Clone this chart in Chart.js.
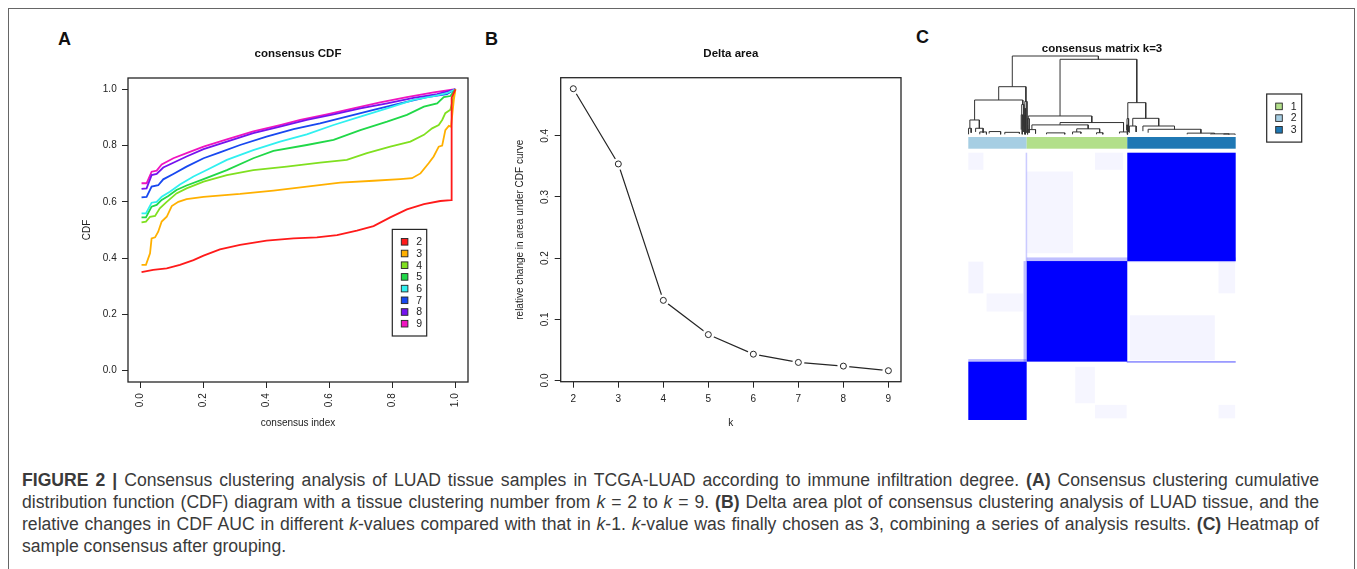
<!DOCTYPE html>
<html>
<head>
	<meta charset="utf-8">
	<title>Consensus clustering of LUAD samples</title>
	<script src="https://cdn.jsdelivr.net/npm/chart.js@4.4.1/dist/chart.umd.min.js"></script>
	<style>
		body { margin: 0; background: #fff; }
		#page { position: relative; width: 1357px; height: 569px; overflow: hidden; font-family: 'Liberation Sans', Arial, sans-serif; }
		#frame { position: absolute; left: 8px; top: 8px; width: 1345px; height: 620px; border: 1.5px solid #666; }
		.tag { position: absolute; font-weight: bold; font-size: 18px; line-height: 18px; color: #111; }
		canvas { position: absolute; }
		#caption { position: absolute; left: 22px; top: 469px; width: 1297px; font-size: 17.6px; line-height: 22px; color: #3a3a3a; }
		#caption div { white-space: nowrap; text-align: justify; text-align-last: justify; }
		#caption div.last { text-align-last: left; }
	</style>
</head>
<body>
<div id="page">
	<div id="frame"></div>
	<div class="tag" style="left:58px; top:30px;">A</div>
	<div class="tag" style="left:485px; top:30px;">B</div>
	<div class="tag" style="left:916px; top:28px;">C</div>

	<!--A: consensus CDF-->
	<canvas id="cdfChart" width="440" height="420" style="left:40px; top:20px;"></canvas>
	<!--B: delta area-->
	<canvas id="deltaChart" width="450" height="420" style="left:470px; top:20px;"></canvas>
	<!--C: consensus matrix-->
	<canvas id="matrixChart" width="380" height="420" style="left:940px; top:20px;"></canvas>

	<div id="caption">
		<div><b>FIGURE 2 |</b> Consensus clustering analysis of LUAD tissue samples in TCGA-LUAD according to immune infiltration degree. <b>(A)</b> Consensus clustering cumulative</div>
		<div>distribution function (CDF) diagram with a tissue clustering number from <i>k</i> = 2 to <i>k</i> = 9. <b>(B)</b> Delta area plot of consensus clustering analysis of LUAD tissue, and the</div>
		<div>relative changes in CDF AUC in different <i>k</i>-values compared with that in <i>k</i>-1. <i>k</i>-value was finally chosen as 3, combining a series of analysis results. <b>(C)</b> Heatmap of</div>
		<div class="last">sample consensus after grouping.</div>
	</div>
</div>

<script>
	// ---------- data ----------

	// A: consensus CDF, one curve per k, points are [consensus index, CDF]
	var cdfLabels = ['2', '3', '4', '5', '6', '7', '8', '9'];
	var cdfColors = ['#ff1a1a', '#ffb000', '#80e020', '#20d848', '#30f0f0', '#1848f0', '#7412ee', '#f014c0'];
	var cdf2 = [[0.003,0.350],[0.04,0.358],[0.083,0.364],[0.125,0.376],[0.168,0.393],[0.2,0.409],[0.252,0.431],[0.316,0.447],[0.4,0.462],[0.486,0.470],[0.56,0.474],[0.624,0.482],[0.687,0.498],[0.74,0.514],[0.793,0.545],[0.846,0.573],[0.9,0.592],[0.952,0.603],[0.986,0.606],[0.988,0.97],[1.0,1.0]];
	var cdf3 = [[0.003,0.376],[0.017,0.376],[0.03,0.417],[0.035,0.470],[0.046,0.474],[0.056,0.494],[0.067,0.530],[0.083,0.547],[0.099,0.585],[0.12,0.600],[0.146,0.610],[0.2,0.618],[0.316,0.628],[0.422,0.640],[0.528,0.654],[0.634,0.668],[0.74,0.675],[0.825,0.681],[0.862,0.684],[0.889,0.701],[0.915,0.737],[0.931,0.761],[0.947,0.796],[0.958,0.800],[0.968,0.855],[0.979,0.870],[0.986,0.867],[0.995,0.962],[1.0,1.0]];
	var cdf4 = [[0.003,0.527],[0.017,0.530],[0.03,0.547],[0.046,0.550],[0.061,0.577],[0.083,0.600],[0.114,0.630],[0.146,0.648],[0.2,0.672],[0.274,0.695],[0.358,0.713],[0.464,0.725],[0.57,0.739],[0.655,0.749],[0.719,0.773],[0.793,0.796],[0.857,0.814],[0.9,0.838],[0.926,0.861],[0.947,0.873],[0.958,0.891],[0.968,0.915],[0.984,0.927],[1.0,1.0]];
	var cdf5 = [[0.003,0.545],[0.017,0.545],[0.035,0.583],[0.051,0.589],[0.067,0.607],[0.088,0.621],[0.114,0.642],[0.146,0.658],[0.2,0.681],[0.274,0.713],[0.358,0.755],[0.422,0.781],[0.528,0.802],[0.613,0.820],[0.698,0.855],[0.783,0.885],[0.846,0.909],[0.9,0.938],[0.942,0.950],[0.963,0.972],[0.984,0.976],[1.0,1.0]];
	var cdf6 = [[0.003,0.559],[0.017,0.559],[0.035,0.597],[0.051,0.600],[0.067,0.618],[0.093,0.636],[0.125,0.662],[0.168,0.690],[0.21,0.713],[0.274,0.749],[0.358,0.784],[0.443,0.814],[0.528,0.840],[0.613,0.873],[0.698,0.903],[0.783,0.932],[0.867,0.962],[0.931,0.976],[0.973,0.986],[1.0,1.0]];
	var cdf7 = [[0.003,0.616],[0.019,0.618],[0.035,0.654],[0.056,0.659],[0.072,0.680],[0.104,0.699],[0.146,0.725],[0.2,0.755],[0.252,0.776],[0.316,0.802],[0.4,0.832],[0.486,0.858],[0.57,0.879],[0.655,0.903],[0.74,0.927],[0.825,0.950],[0.91,0.972],[0.973,0.983],[1.0,1.0]];
	var cdf8 = [[0.003,0.646],[0.019,0.648],[0.035,0.695],[0.051,0.699],[0.072,0.722],[0.104,0.739],[0.146,0.761],[0.2,0.787],[0.274,0.814],[0.358,0.844],[0.443,0.867],[0.528,0.891],[0.613,0.911],[0.698,0.932],[0.783,0.950],[0.867,0.969],[0.942,0.983],[1.0,1.0]];
	var cdf9 = [[0.003,0.666],[0.019,0.666],[0.035,0.707],[0.051,0.711],[0.067,0.733],[0.104,0.755],[0.146,0.773],[0.2,0.796],[0.274,0.822],[0.358,0.850],[0.443,0.873],[0.507,0.891],[0.592,0.911],[0.676,0.932],[0.761,0.953],[0.846,0.972],[0.931,0.989],[1.0,1.0]];
	var cdfCurves = [cdf2, cdf3, cdf4, cdf5, cdf6, cdf7, cdf8, cdf9];
	var cdfTicks = [0, 0.2, 0.4, 0.6, 0.8, 1.0];

	// B: delta area
	var kValues = [2, 3, 4, 5, 6, 7, 8, 9];
	var deltaArea = [0.477, 0.354, 0.131, 0.075, 0.043, 0.0295, 0.0235, 0.016];
	var deltaTicks = [0, 0.1, 0.2, 0.3, 0.4];

	// C: consensus matrix, k = 3
	var clusterNames = ['1', '2', '3'];
	var clusterColors = ['#b2df8a', '#a6cee3', '#1f78b4'];
	var blockClusters = ['2', '1', '3'];   // cluster of each sample block, left to right
	var blockSizes = [112, 193, 208];      // samples in each block
	// low consensus patches: [col from, col to, row from, row to, consensus]
	var faintCells = [
		[0, 29, 480, 513, 0.04], [112, 201, 320, 477, 0.04], [243, 297, 480, 513, 0.04],
		[0, 29, 243, 304, 0.045], [35, 105, 208, 243, 0.035], [310, 473, 115, 201, 0.045],
		[480, 512, 243, 304, 0.04], [205, 243, 32, 102, 0.035], [243, 304, 3, 29, 0.035],
		[480, 512, 3, 29, 0.035], [304, 513, 110, 113, 0.45], [112, 513, 303, 312, 0.25],
		[106, 112, 112, 305, 0.25], [110, 113, 305, 513, 0.2], [0, 112, 112, 117, 0.25]
	];
	// dendrogram merges: [left child, right child, merge height, left child height, right child height]
	var dendroLinks = [
		[84.4, 249.6, 1.000, 0.608, 0.958],
		[58.3, 110.5, 0.608, 0.438, 0.420],
		[12.1, 104.5, 0.438, 0.183, 0.380],
		[3.0, 21.2, 0.183, 0.077, 0.077],
		[0.5, 5.5, 0.077, 0, 0.02],
		[14.0, 28.4, 0.077, 0.03, 0.02],
		[22.0, 34.8, 0.030, 0, 0],
		[40.0, 62.0, 0.035, 0.01, 0],
		[70.0, 98.0, 0.025, 0, 0.01],
		[102.5, 106.5, 0.380, 0.25, 0.03],
		[101.5, 103.5, 0.250, 0.06, 0],
		[108.5, 112.5, 0.420, 0.33, 0.02],
		[107.5, 109.5, 0.330, 0.24, 0],
		[106.5, 108.5, 0.240, 0.10, 0],
		[176.0, 323.2, 0.958, 0.234, 0.404],
		[115.1, 236.9, 0.234, 0.200, 0.150],
		[113.5, 116.7, 0.200, 0.12, 0.02],
		[112.8, 114.2, 0.120, 0.04, 0],
		[176.0, 297.8, 0.150, 0.120, 0.03],
		[122.0, 230.0, 0.120, 0.060, 0.070],
		[115.0, 129.0, 0.060, 0.02, 0.01],
		[208.0, 252.0, 0.070, 0.03, 0.02],
		[200.0, 216.0, 0.030, 0, 0.01],
		[246.0, 258.0, 0.020, 0, 0],
		[150.0, 185.0, 0.018, 0, 0],
		[290.0, 305.6, 0.030, 0.01, 0],
		[306.0, 340.4, 0.404, 0.200, 0.204],
		[304.5, 307.5, 0.200, 0.12, 0.03],
		[303.8, 305.2, 0.120, 0.05, 0],
		[315.5, 365.3, 0.204, 0.106, 0.106],
		[309.0, 322.0, 0.106, 0.02, 0.03],
		[335.0, 395.6, 0.106, 0.04, 0.064],
		[345.0, 446.2, 0.064, 0.02, 0.015],
		[420.0, 472.4, 0.015, 0, 0.005],
		[465.0, 500.0, 0.006, 0, 0],
		[490.0, 512.0, 0.004, 0, 0]
	];

	// ---------- shared helpers ----------
	Chart.defaults.font.family = "'Liberation Sans', Arial, sans-serif";
	Chart.defaults.color = '#222';
	var ink = '#262626';

	function fixedTicks(values) {
		return function(scale) {
			scale.ticks = values.map(function(v) { return {value: v}; });
		};
	}

	// R style box round the plot region plus a centred bold title
	var rBox = {
		id: 'rBox',
		afterDraw: function(chart, args, opts) {
			if (!opts.title) return;
			var a = chart.chartArea, ctx = chart.ctx;
			ctx.save();
			ctx.strokeStyle = ink;
			ctx.lineWidth = 1.3;
			ctx.strokeRect(a.left, a.top, a.right - a.left, a.bottom - a.top);
			ctx.fillStyle = '#111';
			ctx.font = "bold 11.5px 'Liberation Sans', Arial, sans-serif";
			ctx.textAlign = 'center';
			ctx.textBaseline = 'middle';
			ctx.fillText(opts.title, (a.left + a.right) / 2, a.top - opts.gap);
			ctx.restore();
		}
	};

	// boxed legend with small squares, as R's legend()
	function drawBoxLegend(ctx, left, top, w, labels, colors) {
		ctx.save();
		ctx.strokeStyle = ink;
		ctx.lineWidth = 1.2;
		var h = labels.length * 11.7 + 13;
		ctx.strokeRect(left, top, w, h);
		ctx.font = "10.5px 'Liberation Sans', Arial, sans-serif";
		ctx.textBaseline = 'middle';
		ctx.textAlign = 'left';
		for (var i = 0; i < labels.length; i++) {
			var cy = top + 12.4 + i * 11.7;
			ctx.fillStyle = colors[i];
			ctx.fillRect(left + 9, cy - 3.3, 6.6, 6.6);
			ctx.lineWidth = 0.9;
			ctx.strokeRect(left + 9, cy - 3.3, 6.6, 6.6);
			ctx.fillStyle = '#222';
			ctx.fillText(labels[i], left + 24, cy + 0.5);
		}
		ctx.restore();
	}

	function axisStyle(extra) {
		var base = {
			border: {display: false},
			grid: {drawOnChartArea: false, drawTicks: true, tickLength: 6, color: ink, lineWidth: 1},
			ticks: {autoSkip: false, color: '#222', font: {size: 10}}
		};
		for (var key in extra) {
			if (typeof extra[key] === 'object' && base[key] && !Array.isArray(extra[key])) {
				base[key] = Object.assign({}, base[key], extra[key]);
			} else {
				base[key] = extra[key];
			}
		}
		return base;
	}

	// ---------- A: consensus CDF ----------
	var cdfLegend = {
		id: 'cdfLegend',
		afterDraw: function(chart) {
			var a = chart.chartArea;
			var ds = chart.data.datasets;
			drawBoxLegend(chart.ctx, a.right - 41.3 - 34.4, a.bottom - 46 - 106.6, 34.4,
				ds.map(function(d) { return d.label; }),
				ds.map(function(d) { return d.borderColor; }));
		}
	};

	new Chart(document.getElementById('cdfChart'), {
		type: 'scatter',
		data: {
			datasets: cdfCurves.map(function(curve, i) {
				return {
					label: cdfLabels[i],
					data: curve.map(function(p) { return {x: p[0], y: p[1]}; }),
					showLine: true,
					borderColor: cdfColors[i],
					borderWidth: 1.8,
					pointRadius: 0,
					tension: 0
				};
			})
		},
		options: {
			responsive: false,
			animation: false,
			events: [],
			layout: {padding: {left: 0, right: 12, top: 58, bottom: 0}},
			plugins: {legend: {display: false}, tooltip: {enabled: false}, rBox: {title: 'consensus CDF', gap: 23.7}},
			scales: {
				x: axisStyle({
					type: 'linear', min: -0.04, max: 1.04,
					afterBuildTicks: fixedTicks(cdfTicks),
					afterFit: function(s) { s.height = 58; },
					ticks: {minRotation: 90, maxRotation: 90, padding: 5.3, callback: function(v) { return v.toFixed(1); }},
					title: {display: true, text: 'consensus index', color: '#222', font: {size: 10}, padding: {top: 0, bottom: 10.7}}
				}),
				y: axisStyle({
					type: 'linear', min: -0.04, max: 1.04,
					afterBuildTicks: fixedTicks(cdfTicks),
					afterFit: function(s) { s.width = 88; },
					ticks: {padding: 5.3, callback: function(v) { return v.toFixed(1); }},
					title: {display: true, text: 'CDF', color: '#222', font: {size: 10}, padding: {top: 41.7, bottom: 0}}
				})
			}
		},
		plugins: [rBox, cdfLegend]
	});

	// ---------- B: delta area ----------
	var deltaPoints = kValues.map(function(k, i) { return {x: k, y: deltaArea[i]}; });

	new Chart(document.getElementById('deltaChart'), {
		type: 'scatter',
		data: {
			datasets: [
				{data: deltaPoints, showLine: true, borderColor: ink, borderWidth: 1.2, pointRadius: 0, order: 3},
				{data: deltaPoints, showLine: false, pointRadius: 6, pointBackgroundColor: '#fff', pointBorderWidth: 0, order: 2},
				{data: deltaPoints, showLine: false, pointRadius: 3, pointBackgroundColor: '#fff', pointBorderColor: ink, pointBorderWidth: 1, order: 1}
			]
		},
		options: {
			responsive: false,
			animation: false,
			events: [],
			layout: {padding: {left: 0, right: 19, top: 57.7, bottom: 0}},
			plugins: {legend: {display: false}, tooltip: {enabled: false}, rBox: {title: 'Delta area', gap: 23.4}},
			scales: {
				x: axisStyle({
					type: 'linear', min: 1.72, max: 9.28,
					afterBuildTicks: fixedTicks(kValues),
					afterFit: function(s) { s.height = 58.3; },
					ticks: {padding: 5.6, callback: function(v) { return String(v); }},
					title: {display: true, text: 'k', color: '#222', font: {size: 10}, padding: {top: 0, bottom: 10.7}}
				}),
				y: axisStyle({
					type: 'linear', min: -0.002, max: 0.495,
					afterBuildTicks: fixedTicks(deltaTicks),
					afterFit: function(s) { s.width = 90.7; },
					ticks: {minRotation: 90, maxRotation: 90, crossAlign: 'center', padding: 2.8, callback: function(v) { return v.toFixed(1); }},
					title: {display: true, text: 'relative change in area under CDF curve', color: '#222', font: {size: 10}, padding: {top: 44, bottom: 0}}
				})
			}
		},
		plugins: [rBox]
	});

	// ---------- C: consensus matrix ----------
	function blockBounds() {
		var start = 0, out = [];
		for (var i = 0; i < blockSizes.length; i++) {
			out.push([start, start + blockSizes[i]]);
			start += blockSizes[i];
		}
		return out;
	}

	var matrixPlugin = {
		id: 'matrix',
		beforeDatasetsDraw: function(chart) {
			var ctx = chart.ctx, sx = chart.scales.x, sy = chart.scales.y, sb = chart.scales.yBar;
			function cell(c0, c1, r0, r1, v) {
				var l = sx.getPixelForValue(c0), r = sx.getPixelForValue(c1);
				var t = sy.getPixelForValue(r1), b = sy.getPixelForValue(r0);
				ctx.fillStyle = 'rgba(0, 0, 255, ' + v + ')';
				ctx.fillRect(l, t, r - l, b - t);
			}
			var bounds = blockBounds();
			ctx.save();
			faintCells.forEach(function(f) { cell(f[0], f[1], f[2], f[3], f[4]); });
			bounds.forEach(function(bd) { cell(bd[0], bd[1], bd[0], bd[1], 1); });
			// cluster colour strip
			bounds.forEach(function(bd, i) {
				var l = sx.getPixelForValue(bd[0]), r = sx.getPixelForValue(bd[1]);
				var t = sb.getPixelForValue(1), b = sb.getPixelForValue(0);
				ctx.fillStyle = clusterColors[clusterNames.indexOf(blockClusters[i])];
				ctx.fillRect(l, t, r - l, b - t);
			});
			ctx.restore();
		},
		afterDraw: function(chart) {
			var a = chart.chartArea, ctx = chart.ctx;
			ctx.save();
			ctx.fillStyle = '#111';
			ctx.font = "bold 11.5px 'Liberation Sans', Arial, sans-serif";
			ctx.textAlign = 'center';
			ctx.textBaseline = 'middle';
			ctx.fillText('consensus matrix k=3', (a.left + a.right) / 2, a.top - 6.7);
			ctx.restore();
			drawBoxLegend(ctx, a.right + 31, a.top + 38, 35, clusterNames, clusterColors);
		}
	};

	var dendroPoints = [];
	dendroLinks.forEach(function(m) {
		dendroPoints.push({x: m[0], y: m[3]}, {x: m[0], y: m[2]}, {x: m[1], y: m[2]}, {x: m[1], y: m[4]}, {x: m[1], y: null});
	});

	new Chart(document.getElementById('matrixChart'), {
		type: 'scatter',
		data: {
			datasets: [{
				data: dendroPoints,
				yAxisID: 'yDen',
				showLine: true,
				spanGaps: false,
				borderColor: '#333',
				borderWidth: 1,
				pointRadius: 0,
				clip: false
			}]
		},
		options: {
			responsive: false,
			animation: false,
			events: [],
			layout: {padding: {left: 28.3, right: 84.3, top: 36, bottom: 20}},
			plugins: {legend: {display: false}, tooltip: {enabled: false}},
			scales: {
				x: {type: 'linear', min: 0, max: 513, display: false},
				y: {type: 'linear', min: 0, max: 513, display: false, stack: 'c', stackWeight: 267.3},
				yBar: {type: 'linear', min: -0.342, max: 1.231, display: false, stack: 'c', stackWeight: 18.4},
				yDen: {type: 'linear', min: 0, max: 1, display: false, stack: 'c', stackWeight: 78.3}
			}
		},
		plugins: [matrixPlugin]
	});
</script>
</body>
</html>
